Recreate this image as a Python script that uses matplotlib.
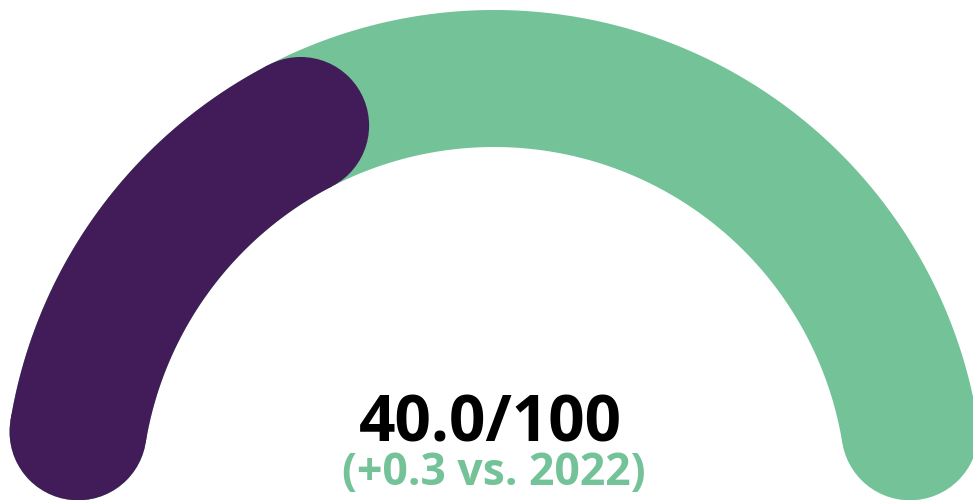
import numpy as np
import matplotlib
matplotlib.use("Agg")
import matplotlib.pyplot as plt

# data
score_value = 40.0
score_max = 100
delta_value = 0.3
compare_year = 2022

main_label = f"{score_value:.1f}/{score_max}"
sub_label = f"(+{delta_value:.1f} vs. {compare_year})"

GREEN = "#73C298"
PURPLE = "#411C58"

W, H = 973, 500
fig = plt.figure(figsize=(W / 100, H / 100), dpi=100)
ax = fig.add_axes([0, 0, 1, 1])
ax.set_xlim(0, W)
ax.set_ylim(0, H)
ax.set_aspect("equal")
ax.axis("off")

cx, cy = 494, 0
r_mid = 421.5
band = 137
cap = np.degrees((band / 2) / r_mid)


def arc_band(a0, a1, color):
    # a0 > a1 (degrees), with round caps inset
    t = np.radians(np.linspace(a0 - cap, a1 + cap, 400))
    ro, ri = r_mid + band / 2, r_mid - band / 2
    xs = np.concatenate([cx + ro * np.cos(t), cx + ri * np.cos(t[::-1])])
    ys = np.concatenate([cy + ro * np.sin(t), cy + ri * np.sin(t[::-1])])
    ax.fill(xs, ys, color=color, lw=0, zorder=2)
    for a in (a0 - cap, a1 + cap):
        ax.add_patch(plt.Circle((cx + r_mid * np.cos(np.radians(a)),
                                 cy + r_mid * np.sin(np.radians(a))),
                                band / 2, color=color, lw=0, zorder=2))


arc_band(180, 0, GREEN)
end_angle = 180 - 180 * score_value / score_max
arc_band(180, end_angle, PURPLE)

ax.text(490, 59, main_label, ha="center", va="baseline", fontsize=46,
        fontweight="bold", family=["Open Sans", "DejaVu Sans"], color="black", zorder=3)
ax.text(494, 15, sub_label, ha="center", va="baseline", fontsize=32,
        fontweight="bold", family=["Open Sans", "DejaVu Sans"], color=GREEN, zorder=3)

fig.savefig("out.png", dpi=100)
